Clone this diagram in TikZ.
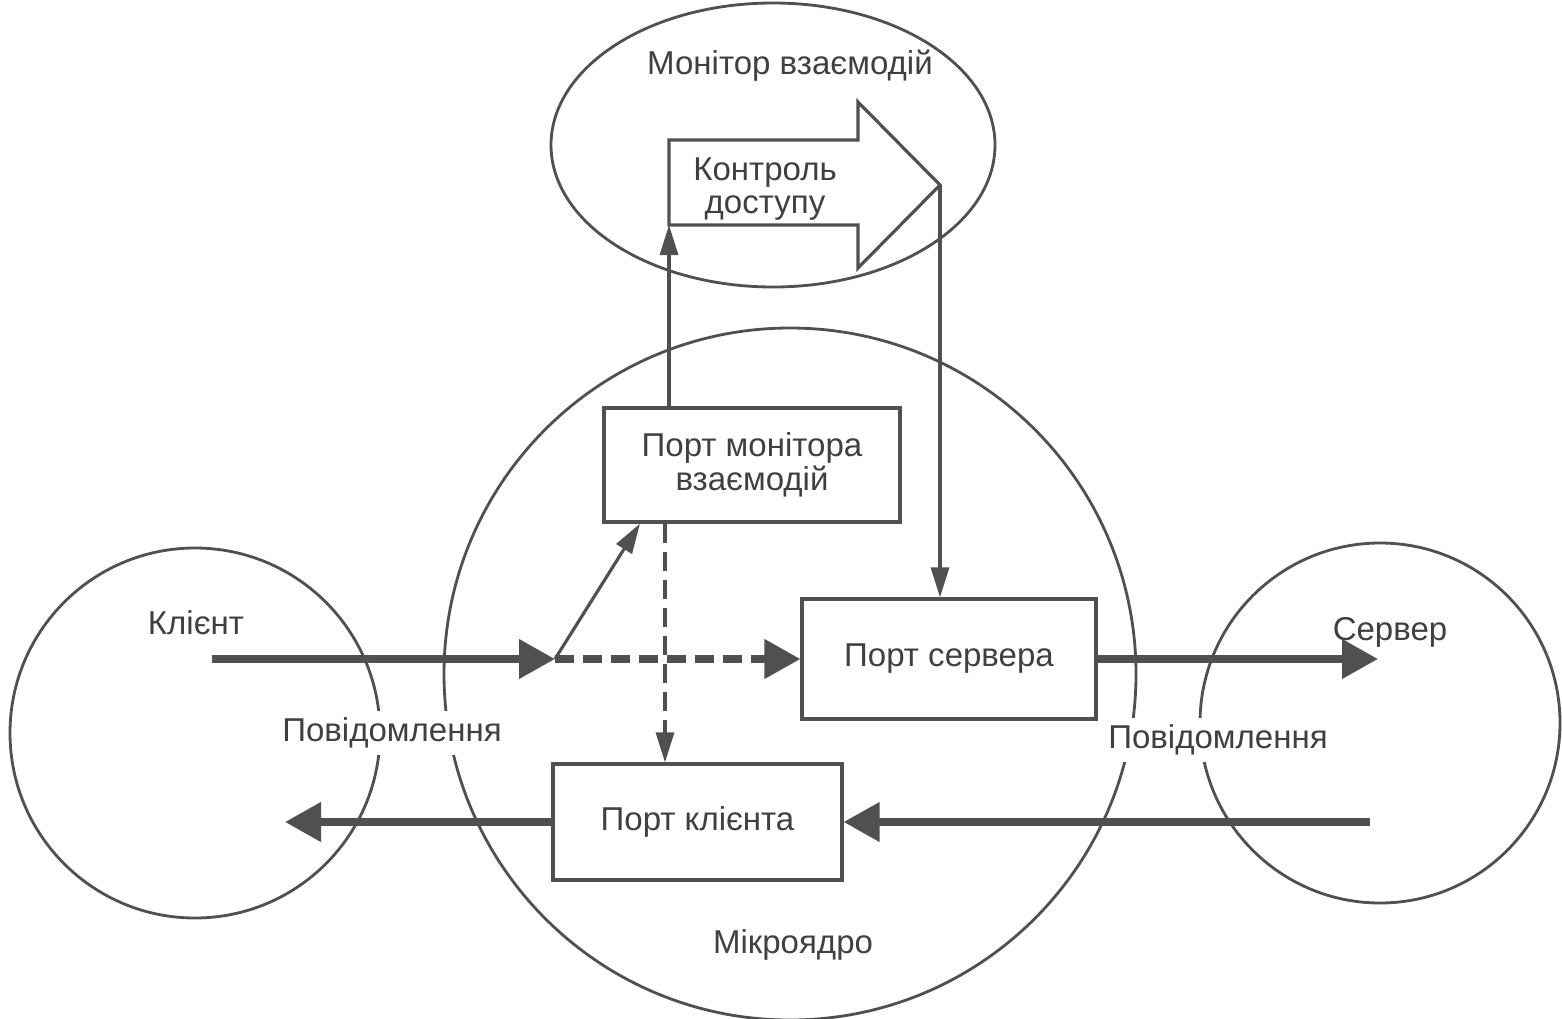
\documentclass[tikz,border=0pt]{standalone}
\usepackage{fontspec}
\setmainfont{Liberation Sans}
\usetikzlibrary{arrows.meta,shapes.geometric}
\definecolor{lineg}{HTML}{505050}
\definecolor{textg}{HTML}{404040}
\begin{document}
\begin{tikzpicture}[
  line/.style={draw=lineg, line width=0.8pt},
  portbox/.style={draw=lineg, line width=0.9pt, fill=white, text=textg, align=center,
    font=\fontsize{9.4}{9.5}\selectfont, inner sep=0pt},
  lbl/.style={text=textg, font=\fontsize{9.4}{9.5}\selectfont, align=center},
  wlbl/.style={lbl, fill=white, inner sep=2pt},
  thick arrow/.style={draw=lineg, line width=2.1pt, -{Triangle[length=0.36cm,width=0.38cm]}},
  thin arrow/.style={draw=lineg, line width=0.9pt, -{Triangle[length=0.30cm,width=0.18cm]}},
]
\useasboundingbox (0,0) rectangle (15.62,10.18);
\fill[white] (0,0) rectangle (15.62,10.18);

% circles and ellipse
\node[circle, line, minimum size=3.70cm, inner sep=0pt] (client) at (1.95,2.85) {};
\node[circle, line, minimum size=6.92cm, inner sep=0pt] (kernel) at (7.90,3.44) {};
\node[circle, line, minimum size=3.60cm, inner sep=0pt] (server) at (13.80,2.95) {};
\node[ellipse, line, minimum width=4.44cm, minimum height=2.84cm, inner sep=0pt] (monitor) at (7.73,8.73) {};

% block arrow "Контроль доступу"
\draw[line, fill=white, line width=0.9pt] (6.69,8.78) -- (8.58,8.78) -- (8.58,9.16) -- (9.40,8.33)
  -- (8.58,7.50) -- (8.58,7.93) -- (6.69,7.93) -- cycle;
\node[lbl] (ctrl) at (7.65,8.29) {Контроль\\доступу};
\coordinate (ctrlbottom) at (6.69,7.93);
\coordinate (ctrltip) at (9.40,8.33);

% ports
\node[portbox, minimum width=2.96cm, minimum height=1.14cm] (pmon) at (7.52,5.53) {Порт монітора\\взаємодій};
\node[portbox, minimum width=2.94cm, minimum height=1.20cm] (psrv) at (9.49,3.59) {Порт сервера};
\node[portbox, minimum width=2.89cm, minimum height=1.16cm] (pcli) at (6.975,1.96) {Порт клієнта};

% coordinates
\coordinate (cstart) at (2.12,3.59);
\coordinate (junc) at (5.55,3.59);
\coordinate (send) at (13.78,3.59);
\coordinate (sstart) at (13.70,1.96);
\coordinate (cend) at (2.85,1.96);

% message flow
\draw[thick arrow] (cstart) -- (junc);
\draw[thick arrow, dash pattern=on 0.19cm off 0.09cm] (junc) -- (psrv.west);
\draw[thick arrow] (psrv.east) -- (send);
\draw[thick arrow] (sstart) -- (pcli.east);
\draw[thick arrow] (pcli.west) -- (cend);

% monitor connections
\draw[thin arrow] (junc) -- (pmon.south west -| 6.40,0);
\draw[thin arrow] (pmon.north -| 6.69,0) -- (ctrlbottom);
\draw[thin arrow] (ctrltip) -- (psrv.north -| 9.40,0);
\draw[thin arrow, dash pattern=on 0.19cm off 0.09cm] (pmon.south -| 6.65,0) -- (pcli.north -| 6.65,0);

% labels
\node[lbl] (tmon) at (7.90,9.52) {Монітор взаємодій};
\node[lbl] (tcli) at (1.96,3.95) {Клієнт};
\node[lbl] (tsrv) at (13.90,3.86) {Сервер};
\node[wlbl] (msg1) at (3.92,2.85) {Повідомлення};
\node[wlbl] (msg2) at (12.18,2.78) {Повідомлення};
\node[lbl] (tker) at (7.93,0.73) {Мікроядро};
\end{tikzpicture}
\end{document}
